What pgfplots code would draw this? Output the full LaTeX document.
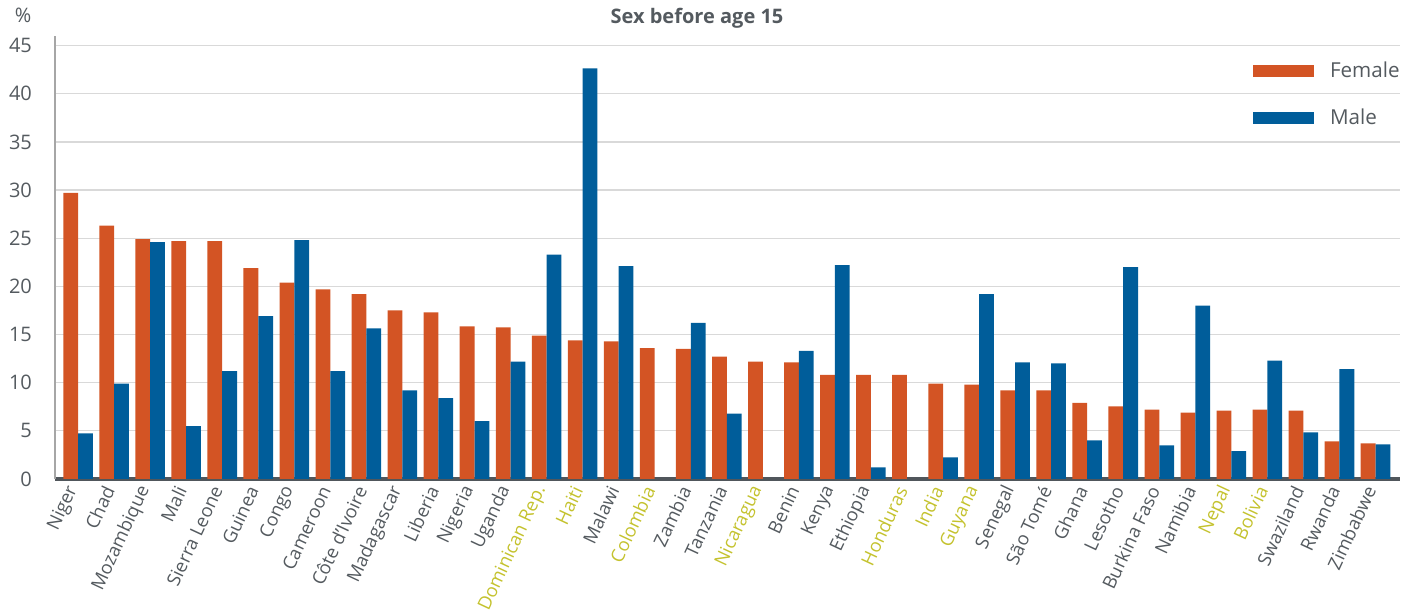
\documentclass[border=0pt]{standalone}
\usepackage{pgfplots}
\pgfplotsset{compat=1.18}
\usepackage{fontspec}
\setmainfont{Open Sans}
\definecolor{fem}{RGB}{211,84,36}
\definecolor{mal}{RGB}{0,93,154}
\definecolor{txt}{RGB}{84,90,95}
\definecolor{hl}{RGB}{196,194,46}
\definecolor{gridc}{RGB}{217,217,217}
\definecolor{base}{RGB}{80,86,91}
\begin{document}
\begin{tikzpicture}
\begin{axis}[
  name=ax,
  scale only axis,
  width=672.5pt, height=221.5pt,
  xmin=-0.64, xmax=36.68,
  ymin=0, ymax=46,
  ytick={0,5,...,45},
  axis x line*=bottom,
  axis y line*=left,
  x axis line style={draw=base, line width=2pt, -},
  y axis line style={draw=gray!70, line width=0.6pt, -},
  ymajorgrids,
  grid style={gridc, line width=0.6pt},
  major tick length=0pt,
  xtick={0,...,36},
  xticklabels={Niger, Chad, Mozambique, Mali, Sierra Leone, Guinea, Congo, Cameroon, Côte d'Ivoire, Madagascar, Liberia, Nigeria, Uganda, {\textcolor{hl}{Dominican Rep.}}, {\textcolor{hl}{Haiti}}, Malawi, {\textcolor{hl}{Colombia}}, Zambia, Tanzania, {\textcolor{hl}{Nicaragua}}, Benin, Kenya, Ethiopia, {\textcolor{hl}{Honduras}}, {\textcolor{hl}{India}}, {\textcolor{hl}{Guyana}}, Senegal, São Tomé, Ghana, Lesotho, Burkina Faso, Namibia, {\textcolor{hl}{Nepal}}, {\textcolor{hl}{Bolivia}}, Swaziland, Rwanda, Zimbabwe},
  xticklabel style={font=\fontsize{9.2pt}{10pt}\selectfont, text=txt, xshift=-1pt, yshift=-1pt, rotate=65, anchor=east},
  yticklabel style={font=\fontsize{10pt}{12pt}\selectfont, text=txt, xshift=-8pt},
  /pgf/number format/assume math mode=true,
  ybar,
  bar width=0.41,
  legend cell align=left,
  legend style={at={(rel axis cs:1,0.96)}, xshift=5pt, anchor=north east, draw=none, fill=none,
    font=\fontsize{10.3pt}{12pt}\selectfont, text=txt, row sep=10pt,
    /tikz/every odd column/.append style={column sep=6pt}},
  legend image code/.code={\fill[#1] (0pt,-3pt) rectangle (30.5pt,3pt);},
  clip=false,
]
\addplot[fill=fem, draw=none, bar shift=-0.205] coordinates {
(0,29.7) (1,26.3) (2,24.9) (3,24.7) (4,24.7) (5,21.9) (6,20.4) (7,19.7) (8,19.2) (9,17.5)
(10,17.3) (11,15.85) (12,15.75) (13,14.9) (14,14.4) (15,14.3) (16,13.6) (17,13.5) (18,12.7) (19,12.2)
(20,12.1) (21,10.8) (22,10.8) (23,10.8) (24,9.9) (25,9.8) (26,9.2) (27,9.2) (28,7.9) (29,7.55)
(30,7.2) (31,6.9) (32,7.1) (33,7.2) (34,7.1) (35,3.9) (36,3.7)};
\addlegendentry{Female}
\addplot[fill=mal, draw=none, bar shift=0.205] coordinates {
(0,4.75) (1,9.9) (2,24.6) (3,5.5) (4,11.2) (5,16.9) (6,24.8) (7,11.2) (8,15.65) (9,9.2)
(10,8.4) (11,6.0) (12,12.2) (13,23.3) (14,42.65) (15,22.1) (17,16.2) (18,6.8)
(20,13.3) (21,22.2) (22,1.2) (24,2.25) (25,19.2) (26,12.1) (27,12.0) (28,4.0) (29,22.0)
(30,3.5) (31,18.0) (32,2.9) (33,12.3) (34,4.85) (35,11.4) (36,3.6)};
\addlegendentry{Male}
\end{axis}
\node[text=txt, font=\fontsize{10pt}{12pt}\selectfont] at ([xshift=-16pt, yshift=232pt]ax.south west) {\%};
\node[text=txt, font=\bfseries\fontsize{10pt}{12pt}\selectfont] at ([xshift=321pt, yshift=230.5pt]ax.south west) {Sex before age 15};
\pgfresetboundingbox
\path ([xshift=-27.5pt,yshift=-67.5pt]ax.south west) rectangle ([xshift=680.5pt,yshift=239.5pt]ax.south west);
\end{tikzpicture}
\end{document}
